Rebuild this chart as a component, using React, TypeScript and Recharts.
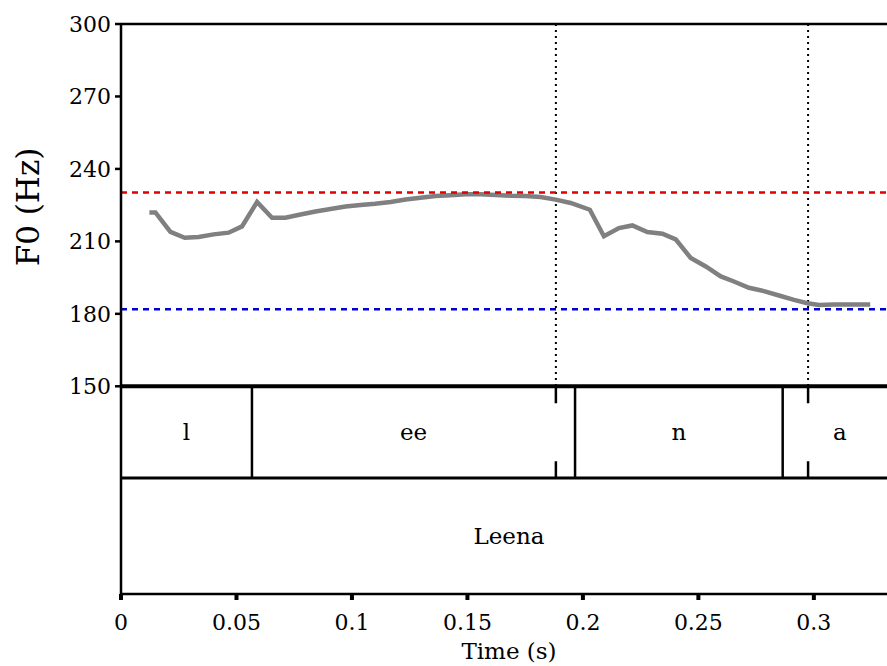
import React from 'react';
import { LineChart, Line, XAxis, YAxis, ReferenceLine, ReferenceArea } from 'recharts';

const FONT = "'DejaVu Serif', serif";

// F0 track (s, Hz)
const times = [
  0.0123, 0.0149, 0.0214, 0.0276, 0.0336, 0.0401, 0.0466, 0.0524, 0.0589, 0.0654,
  0.0712, 0.0777, 0.0842, 0.0907, 0.0972, 0.1037, 0.11, 0.1167, 0.1232, 0.1297,
  0.1362, 0.1427, 0.1492, 0.1557, 0.1622, 0.1687, 0.1752, 0.1817, 0.1882, 0.1947,
  0.203, 0.2091, 0.2156, 0.2214, 0.2279, 0.2344, 0.2402, 0.2467, 0.2532, 0.2597,
  0.2654, 0.2719, 0.2784, 0.2849, 0.2914, 0.2972, 0.3022, 0.3088, 0.3153, 0.3244,
];
const f0 = [
  222.0, 222.0, 213.9, 211.5, 211.8, 212.9, 213.6, 216.2, 226.3, 219.8,
  219.8, 221.1, 222.4, 223.4, 224.4, 225.1, 225.6, 226.3, 227.3, 228.1,
  228.8, 229.1, 229.5, 229.5, 229.2, 228.9, 228.8, 228.4, 227.3, 225.9,
  223.1, 212.1, 215.5, 216.6, 213.9, 213.2, 210.8, 203.1, 199.6, 195.5,
  193.4, 190.8, 189.4, 187.6, 185.8, 184.4, 183.7, 183.9, 183.9, 183.9,
];

const xTicks = [0, 0.05, 0.1, 0.15, 0.2, 0.25, 0.3];
const yTicks = [150, 180, 210, 240, 270, 300];

const highRef = 230.2;
const lowRef = 181.9;

// annotation tiers
const segLabels = ['l', 'ee', 'n', 'a'];
const segBounds = [0, 0.0567, 0.1966, 0.2865, 0.336];
const dottedMarks = [0.1883, 0.2975];
const wordLabel = 'Leena';
const xEnd = 0.336;

const yMin = 64;
const tierTop = 150;
const tierMid = 112;

const data = times.map((t, i) => ({ t, f0: f0[i] }));

const YLabel = () => (
  <text
    x={39}
    y={207}
    transform="rotate(-90 39 207)"
    textAnchor="middle"
    fontFamily={FONT}
    fontSize={31}
    fill="#000"
  >
    F0 (Hz)
  </text>
);

export default function App() {
  const tickStyle = { fontFamily: FONT, fontSize: 22, fill: '#000' };
  return (
    <div style={{ position: 'absolute', left: 0, top: 0, width: 887, height: 666, overflow: 'hidden', background: '#fff' }}>
      <LineChart width={897} height={666} data={data} margin={{ top: 24, right: 0, bottom: 0, left: 0 }}>
        <XAxis
          type="number"
          dataKey="t"
          domain={[0, xEnd]}
          ticks={xTicks}
          allowDataOverflow
          height={72}
          stroke="#000"
          axisLine={{ stroke: '#000', strokeWidth: 2.5 }}
          tickLine={{ stroke: '#000', strokeWidth: 4 }}
          tickSize={6}
          tickMargin={14}
          tick={tickStyle}
          label={{ value: 'Time (s)', position: 'insideBottom', offset: 7, fontFamily: FONT, fontSize: 23, fill: '#000' }}
        />
        <YAxis
          type="number"
          domain={[yMin, 300]}
          ticks={yTicks}
          allowDataOverflow
          width={121}
          stroke="#000"
          axisLine={{ stroke: '#000', strokeWidth: 2.5 }}
          tickLine={{ stroke: '#000', strokeWidth: 2.5 }}
          tickSize={6}
          tickMargin={4}
          tick={tickStyle}
          label={{ content: () => <YLabel /> }}
        />
        <ReferenceLine y={300} stroke="#000" strokeWidth={2.5} />
        <ReferenceLine y={tierTop} stroke="#000" strokeWidth={4} />
        <ReferenceLine y={tierMid} stroke="#000" strokeWidth={3} />
        {dottedMarks.map((x) => (
          <ReferenceLine
            key={'d' + x}
            segment={[{ x, y: 300 }, { x, y: tierTop }]}
            stroke="#000"
            strokeWidth={2}
            strokeDasharray="2 4"
          />
        ))}
        {dottedMarks.map((x) => (
          <ReferenceLine
            key={'t' + x}
            segment={[{ x, y: tierTop }, { x, y: tierMid }]}
            stroke="#000"
            strokeWidth={2.5}
            strokeDasharray="17 58"
          />
        ))}
        {segBounds.slice(1, -1).map((x) => (
          <ReferenceLine
            key={'b' + x}
            segment={[{ x, y: tierTop }, { x, y: tierMid }]}
            stroke="#000"
            strokeWidth={2.5}
          />
        ))}
        {segLabels.map((s, i) => (
          <ReferenceArea
            key={'s' + i}
            x1={segBounds[i]}
            x2={segBounds[i + 1]}
            y1={tierMid}
            y2={tierTop}
            fill="none"
            stroke="none"
            ifOverflow="visible"
            label={{ value: s, position: 'center', fontFamily: FONT, fontSize: 23, fill: '#000' }}
          />
        ))}
        <ReferenceArea
          x1={0}
          x2={xEnd}
          y1={yMin}
          y2={tierMid}
          fill="none"
          stroke="none"
          ifOverflow="visible"
          label={{ value: wordLabel, position: 'center', fontFamily: FONT, fontSize: 23, fill: '#000' }}
        />
        <Line
          type="linear"
          dataKey="f0"
          stroke="#808080"
          strokeWidth={4.5}
          dot={false}
          isAnimationActive={false}
        />
        <ReferenceLine y={highRef} stroke="#e00000" strokeWidth={2.5} strokeDasharray="6 5" />
        <ReferenceLine y={lowRef} stroke="#0000d0" strokeWidth={2.5} strokeDasharray="6 5" />
      </LineChart>
    </div>
  );
}
